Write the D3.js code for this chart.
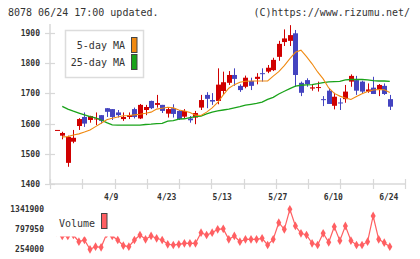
<!DOCTYPE html>
<html>
<head>
<meta charset="utf-8">
<script src="https://cdn.jsdelivr.net/npm/d3@7"></script>
<style>
  body { margin: 0; background: #fff; }
  svg { display: block; }
  text { font-family: "DejaVu Sans Mono", monospace; fill: #333; }
</style>
</head>
<body>
<div id="chart"></div>
<script>
// daily candles (index 0 = oldest)
const open  = [1579,1560,1470,1540,1592,1622,1612,1617,1628,1651,1648,1637,1615,1622,1648,1617,1645,1675,1662,1662,
               1633,1651,1642,1623,1617,1620,1653,1695,1678,1675,1708,1735,1761,1725,1722,1741,1748,1767,1772,1777,
               1821,1870,1874,1899,1735,1744,1716,1719,1681,1709,1659,1670,1681,1739,1744,1739,1706,1719,1713,1725,1681];
const high  = [1579,1573,1560,1579,1618,1637,1626,1637,1628,1651,1648,1645,1637,1637,1653,1665,1662,1676,1695,1662,
               1655,1664,1645,1648,1625,1642,1695,1704,1701,1783,1772,1774,1783,1730,1759,1752,1767,1783,1794,1818,
               1874,1912,1926,1910,1739,1750,1730,1739,1691,1717,1702,1684,1728,1763,1758,1742,1733,1755,1731,1733,1695];
const low   = [1579,1548,1457,1535,1579,1589,1603,1595,1600,1622,1612,1620,1609,1615,1617,1615,1628,1648,1653,1635,
               1620,1620,1612,1617,1603,1598,1645,1651,1662,1664,1697,1728,1725,1705,1717,1711,1730,1739,1767,1774,
               1808,1857,1857,1722,1691,1722,1709,1706,1658,1665,1647,1645,1669,1722,1695,1700,1702,1698,1691,1695,1645];
const close = [1579,1569,1556,1553,1615,1600,1625,1617,1609,1639,1622,1628,1622,1628,1622,1662,1655,1651,1668,1642,
               1648,1632,1615,1642,1611,1635,1678,1682,1673,1729,1737,1761,1748,1711,1752,1725,1755,1764,1785,1811,
               1864,1882,1893,1761,1702,1731,1720,1721,1678,1665,1689,1667,1706,1758,1709,1706,1713,1698,1728,1698,1656];

// moving averages as drawn (null = not drawn)
const ma5  = [null,1556,1557,1562,1566,1572,1579,1590,1601,1613,1618,1622,1626,1627,1629,1631,1634,1638,1648,1651,
              1654,1652,1645,1642,1637,1628,1627,1638,1652,1670,1695,1717,1729,1737,1740,1741,1741,1741,1741,1757,
              1772,1792,1815,1836,1843,1822,1798,1771,1748,1718,1700,1691,1685,1680,1690,1699,1706,1711,1713,1712,1703];
const ma25 = [null,1657,1648,1641,1635,1629,1623,1619,1612,1603,1596,1595,1595,1595,1595,1595,1597,1598,1600,1601,
              1608,1610,1615,1616,1620,1623,1625,1632,1638,1642,1645,1648,1652,1656,1661,1664,1667,1671,1680,1687,
              1698,1707,1716,1724,1727,1728,1729,1732,1736,1738,1739,1740,1745,1746,1746,1746,1745,1742,1741,1741,1740];

const volume = [724000,616000,616000,643000,461000,507000,254000,325000,308000,670000,616000,507000,352000,325000,507000,643000,526000,616000,553000,507000,
                390000,371000,390000,417000,417000,417000,706000,643000,706000,798000,810000,526000,616000,461000,526000,526000,526000,553000,371000,526000,
                977000,798000,1341900,888000,689000,643000,417000,371000,689000,444000,869000,488000,888000,488000,371000,371000,461000,1160000,526000,434000,325000];

const dateLabels = ["4/9", "4/23", "5/13", "5/27", "6/10", "6/24"];
const dateIndex  = [10, 20, 30, 40, 50, 60];
const priceTicks = [1400, 1500, 1600, 1700, 1800, 1900];
const volTicks   = [254000, 797950, 1341900];

const W = 420, H = 259;
const svg = d3.select("#chart").append("svg").attr("width", W).attr("height", H);

const x = d3.scaleLinear().domain([0, 60]).range([56.7, 389.8]);
const y = d3.scaleLinear().domain([1400, 1900]).range([184, 33]);
const yv = d3.scaleLinear().domain([254000, 1341900]).range([249.3, 209.3]);
const xTick = d3.scaleLinear().domain([0, 11]).range([50, 405]);

// header
svg.append("text").attr("x", 8).attr("y", 16).style("font-size", "10px")
    .text("8078 06/24 17:00 updated.");
svg.append("text").attr("x", 410).attr("y", 16).attr("text-anchor", "end").style("font-size", "10px")
    .text("(C)https://www.rizumu.net/");

// axes
const axisColor = "#d8d8d8";
svg.append("line").attr("x1", 50).attr("x2", 50).attr("y1", 24).attr("y2", 184)
    .attr("stroke", axisColor).attr("stroke-width", 1.5);
svg.append("line").attr("x1", 50).attr("x2", 405).attr("y1", 184).attr("y2", 184)
    .attr("stroke", axisColor).attr("stroke-width", 1.5);

svg.selectAll(".ytick").data(priceTicks).enter().append("line")
    .attr("x1", 45).attr("x2", 55)
    .attr("y1", d => Math.round(y(d)) + 0.5).attr("y2", d => Math.round(y(d)) + 0.5)
    .attr("stroke", axisColor).attr("stroke-width", 1.2);
svg.selectAll(".ylab").data(priceTicks).enter().append("text")
    .attr("x", 40).attr("y", d => y(d) + 3).attr("text-anchor", "end")
    .style("font-size", "8px").style("font-weight", "bold")
    .text(d => d);

svg.selectAll(".xtick").data(d3.range(12)).enter().append("line")
    .attr("x1", d => Math.round(xTick(d)) + 0.5).attr("x2", d => Math.round(xTick(d)) + 0.5)
    .attr("y1", 179).attr("y2", 189)
    .attr("stroke", axisColor).attr("stroke-width", 1.2);
svg.selectAll(".xlab").data(dateLabels).enter().append("text")
    .attr("x", (d, i) => x(dateIndex[i]) - 1).attr("y", 200).attr("text-anchor", "middle")
    .style("font-size", "8px").style("font-weight", "bold")
    .text(d => d);

// candles
const candles = svg.append("g");
const up = i => close[i] >= open[i];
const cw = 5;
candles.selectAll("line").data(d3.range(open.length)).enter().append("line")
    .attr("x1", i => Math.round(x(i)) + 0.5).attr("x2", i => Math.round(x(i)) + 0.5)
    .attr("y1", i => y(high[i])).attr("y2", i => y(low[i]))
    .attr("stroke", i => up(i) ? "#d00000" : "#4444c0").attr("stroke-width", 1);
candles.selectAll("rect").data(d3.range(open.length)).enter().append("rect")
    .attr("x", i => Math.round(x(i)) - 2)
    .attr("width", cw)
    .attr("y", i => y(Math.max(open[i], close[i])))
    .attr("height", i => Math.max(1, Math.abs(y(open[i]) - y(close[i]))))
    .attr("fill", i => up(i) ? "#d00000" : "#4444c0");

// moving averages
const maLine = d3.line().defined(d => d[1] != null).x(d => x(d[0])).y(d => y(d[1]));
svg.append("path").datum(ma25.map((v, i) => [i, v])).attr("d", maLine)
    .attr("fill", "none").attr("stroke", "#1aa31a").attr("stroke-width", 1.3);
svg.append("path").datum(ma5.map((v, i) => [i, v])).attr("d", maLine)
    .attr("fill", "none").attr("stroke", "#f08a12").attr("stroke-width", 1.1);

// price legend
svg.append("rect").attr("x", 65.5).attr("y", 30.5).attr("width", 78).attr("height", 47)
    .attr("fill", "#fff").attr("stroke", "#dcdcdc").attr("stroke-width", 1.5);
svg.append("text").attr("x", 125).attr("y", 49).attr("text-anchor", "end").style("font-size", "10px").text("5-day MA");
svg.append("text").attr("x", 125).attr("y", 66).attr("text-anchor", "end").style("font-size", "10px").text("25-day MA");
svg.append("rect").attr("x", 131.5).attr("y", 37.5).attr("width", 5.5).attr("height", 15)
    .attr("fill", "#f08a12").attr("stroke", "#444").attr("stroke-width", 1);
svg.append("rect").attr("x", 131.5).attr("y", 54.5).attr("width", 5.5).attr("height", 15)
    .attr("fill", "#1aa31a").attr("stroke", "#444").attr("stroke-width", 1);

// volume
svg.selectAll(".vlab").data(volTicks).enter().append("text")
    .attr("x", 44).attr("y", d => yv(d) + 3).attr("text-anchor", "end")
    .style("font-size", "8px").style("font-weight", "bold")
    .text(d => d);

const volColor = "#ff5f62";
svg.append("path").datum(volume)
    .attr("d", d3.line().x((d, i) => x(i)).y(d => yv(d)))
    .attr("fill", "none").attr("stroke", volColor).attr("stroke-width", 1.2);
svg.selectAll(".vpt").data(volume).enter().append("path")
    .attr("d", d3.symbol(d3.symbolDiamond, 22))
    .attr("transform", (d, i) => `translate(${x(i)},${yv(d)})`)
    .attr("fill", volColor);

// volume legend (white box hides points behind it)
svg.append("rect").attr("x", 52).attr("y", 203).attr("width", 63.5).attr("height", 33.5).attr("fill", "#fff");
svg.append("text").attr("x", 59).attr("y", 226.5).style("font-size", "10px").text("Volume");
svg.append("rect").attr("x", 101.5).attr("y", 213.5).attr("width", 5.5).attr("height", 15)
    .attr("fill", volColor).attr("stroke", "#444").attr("stroke-width", 1);
</script>
</body>
</html>
